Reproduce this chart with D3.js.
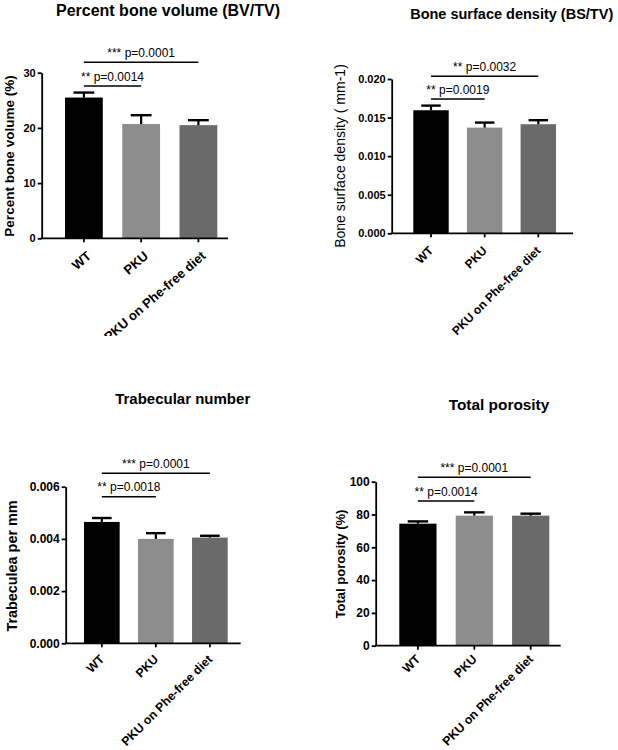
<!DOCTYPE html>
<html>
<head>
<meta charset="utf-8">
<script src="https://cdn.jsdelivr.net/npm/d3@7"></script>
<style>
  html, body { margin: 0; padding: 0; background: #ffffff; }
  svg { display: block; font-family: "Liberation Sans", Arial, Helvetica, sans-serif; }
</style>
</head>
<body>
<svg id="chart" width="618" height="750"></svg>
<script>
// ---------------- data ----------------
const categories = ["WT", "PKU", "PKU on Phe-free diet"];
const barColors = ["#000000", "#8d8d8d", "#6a6a6a"];

const bvtvTitle = "Percent bone volume (BV/TV)";
const bvtvYLabel = "Percent bone volume (%)";
const bvtvMean = [25.5, 20.7, 20.5];
const bvtvErr = [0.9, 1.6, 0.9];
const bvtvTicks = [0, 10, 20, 30];
const bvtvSig = [[0, 1, "** p=0.0014"], [0, 2, "*** p=0.0001"]];

const bstvTitle = "Bone surface density (BS/TV)";
const bstvYLabel = "Bone surface density ( mm-1)";
const bstvMean = [0.01595, 0.0137, 0.01414];
const bstvErr = [0.0006, 0.00065, 0.00052];
const bstvTicks = [0, 0.005, 0.010, 0.015, 0.020];
const bstvSig = [[0, 1, "** p=0.0019"], [0, 2, "** p=0.0032"]];

const tbnTitle = "Trabecular number";
const tbnYLabel = "Trabeculea per mm";
const tbnMean = [0.00465, 0.0040, 0.00405];
const tbnErr = [0.00015, 0.00022, 0.00007];
const tbnTicks = [0, 0.002, 0.004, 0.006];
const tbnSig = [[0, 1, "** p=0.0018"], [0, 2, "*** p=0.0001"]];

const porTitle = "Total porosity";
const porYLabel = "Total porosity (%)";
const porMean = [74.4, 79.3, 79.3];
const porErr = [1.4, 2.0, 1.2];
const porTicks = [0, 20, 40, 60, 80, 100];
const porSig = [[0, 1, "** p=0.0014"], [0, 2, "*** p=0.0001"]];

// ---------------- layout ----------------
const panels = [
  { title: bvtvTitle, ylab: bvtvYLabel, mean: bvtvMean, err: bvtvErr, ticks: bvtvTicks, sig: bvtvSig, fmt: d3.format("d"),
    left: 41.7, right: 228, top: 72.7, bottom: 238.3, barL: 65, barR: 217.3,
    titleX: 168, titleY: 15.5, titleSize: 16,
    ylabX: 9.5, ylabY: 156, ylabSize: 13.5, ylabWeight: "bold",
    tickFont: 11, xlabSize: 13, xlabAngle: -41, xlabDx: 2, xlabDy: 12, sigY: [86, 62.3], clipBottom: 336 },
  { title: bstvTitle, ylab: bstvYLabel, mean: bstvMean, err: bstvErr, ticks: bstvTicks, sig: bstvSig, fmt: d3.format(".3f"),
    left: 391.7, right: 573, top: 79, bottom: 233.3, barL: 413.3, barR: 556,
    titleX: 511.7, titleY: 18.5, titleSize: 14.5,
    ylabX: 340, ylabY: 156, ylabSize: 14, ylabWeight: "normal",
    tickFont: 11, xlabSize: 12, xlabAngle: -45, xlabDx: -3, xlabDy: 12, sigY: [99, 76.3], clipBottom: null },
  { title: tbnTitle, ylab: tbnYLabel, mean: tbnMean, err: tbnErr, ticks: tbnTicks, sig: tbnSig, fmt: d3.format(".3f"),
    left: 65.7, right: 240.7, top: 486.7, bottom: 643.3, barL: 84, barR: 227.7,
    titleX: 182.7, titleY: 403.5, titleSize: 15,
    ylabX: 12, ylabY: 566, ylabSize: 14.4, ylabWeight: "bold",
    tickFont: 12, xlabSize: 12.3, xlabAngle: -45, xlabDx: -3, xlabDy: 10.5, sigY: [496.7, 473.3], clipBottom: null },
  { title: porTitle, ylab: porYLabel, mean: porMean, err: porErr, ticks: porTicks, sig: porSig, fmt: d3.format("d"),
    left: 375.7, right: 560.7, top: 481.7, bottom: 645.7, barL: 399.3, barR: 549.3,
    titleX: 499, titleY: 410, titleSize: 15.4,
    ylabX: 340, ylabY: 564, ylabSize: 13, ylabWeight: "bold",
    tickFont: 12, xlabSize: 12.3, xlabAngle: -45, xlabDx: -3, xlabDy: 8, sigY: [501, 477.3], clipBottom: null }
];

const svg = d3.select("#chart");
const defs = svg.append("defs");
const AXW = 1.8;

panels.forEach((p, pi) => {
  const g = svg.append("g");
  if (p.clipBottom) {
    defs.append("clipPath").attr("id", "clip" + pi)
      .append("rect").attr("x", 0).attr("y", 0).attr("width", 309).attr("height", p.clipBottom);
    g.attr("clip-path", `url(#clip${pi})`);
  }

  const x = d3.scaleBand().domain(categories).range([p.barL, p.barR]).paddingInner(0.34).paddingOuter(0);
  const y = d3.scaleLinear().domain([0, p.ticks[p.ticks.length - 1]]).range([p.bottom, p.top]);
  const bw = x.bandwidth();
  const cx = c => x(c) + bw / 2;

  // title
  g.append("text").attr("x", p.titleX).attr("y", p.titleY)
    .attr("text-anchor", "middle").attr("font-weight", "bold").attr("font-size", p.titleSize)
    .attr("fill", "#000").text(p.title);

  // y label
  g.append("text").attr("transform", `translate(${p.ylabX},${p.ylabY}) rotate(-90)`)
    .attr("text-anchor", "middle").attr("dy", "0.35em")
    .attr("font-weight", p.ylabWeight).attr("font-size", p.ylabSize)
    .attr("fill", "#000").text(p.ylab);

  // bars
  g.selectAll("rect.bar").data(p.mean).join("rect").attr("class", "bar")
    .attr("x", (d, i) => x(categories[i]))
    .attr("y", d => y(d))
    .attr("width", bw)
    .attr("height", d => y(0) - y(d))
    .attr("fill", (d, i) => barColors[i]);

  // error bars (upper only)
  const capW = bw * 0.55;
  p.mean.forEach((m, i) => {
    const c = cx(categories[i]);
    g.append("line").attr("x1", c).attr("x2", c).attr("y1", y(m)).attr("y2", y(m + p.err[i]))
      .attr("stroke", "#000").attr("stroke-width", 2.2);
    g.append("line").attr("x1", c - capW / 2).attr("x2", c + capW / 2)
      .attr("y1", y(m + p.err[i])).attr("y2", y(m + p.err[i]))
      .attr("stroke", "#000").attr("stroke-width", 2.4);
  });

  // y axis
  const yAxis = d3.axisLeft(y).tickValues(p.ticks).tickFormat(p.fmt).tickSize(4).tickSizeOuter(0).tickPadding(2);
  const ya = g.append("g").attr("transform", `translate(${p.left},0)`).call(yAxis);
  ya.select(".domain").attr("stroke", "#000").attr("stroke-width", AXW);
  ya.selectAll(".tick line").attr("stroke", "#000").attr("stroke-width", AXW);
  ya.selectAll(".tick text").attr("font-size", p.tickFont).attr("font-weight", "bold")
    .attr("font-family", "Liberation Sans, Arial, sans-serif").attr("fill", "#000");

  // x axis line
  g.append("line").attr("x1", p.left - AXW / 2).attr("x2", p.right).attr("y1", p.bottom).attr("y2", p.bottom)
    .attr("stroke", "#000").attr("stroke-width", AXW);
  const xAxis = d3.axisBottom(x).tickSize(4).tickSizeOuter(0).tickFormat("");
  const xa = g.append("g").attr("transform", `translate(0,${p.bottom})`).call(xAxis);
  xa.select(".domain").remove();
  xa.selectAll(".tick line").attr("stroke", "#000").attr("stroke-width", AXW);

  // x labels rotated
  g.selectAll("text.xlab").data(categories).join("text").attr("class", "xlab")
    .attr("transform", d => `translate(${cx(d) + p.xlabDx},${p.bottom + p.xlabDy}) rotate(${p.xlabAngle})`)
    .attr("text-anchor", "end").attr("dy", "0.71em")
    .attr("font-size", p.xlabSize).attr("font-weight", "bold").attr("fill", "#000")
    .text(d => d);

  // significance brackets
  p.sig.forEach((s, k) => {
    const x1 = cx(categories[s[0]]), x2 = cx(categories[s[1]]);
    const ly = p.sigY[k];
    g.append("line").attr("x1", x1).attr("x2", x2).attr("y1", ly).attr("y2", ly)
      .attr("stroke", "#000").attr("stroke-width", 1.5);
    g.append("text").attr("x", (x1 + x2) / 2).attr("y", ly - 5.5)
      .attr("text-anchor", "middle").attr("font-size", 12).attr("fill", "#000")
      .text(s[2]);
  });
});
</script>
</body>
</html>
